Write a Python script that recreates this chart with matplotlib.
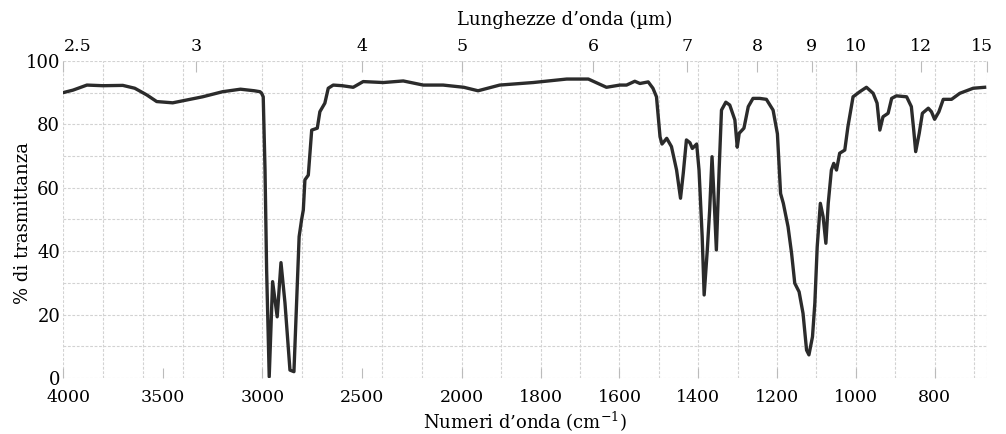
import numpy as np
import matplotlib.pyplot as plt
import matplotlib.transforms as mtransforms

plt.rcParams['font.family'] = 'DejaVu Serif'
plt.rcParams['mathtext.fontset'] = 'dejavuserif'

# spettro IR (numeri d'onda in cm-1, trasmittanza in %)
numeri_onda = [4000, 3950, 3880, 3800, 3700, 3640, 3580, 3530, 3450, 3380,
               3300, 3200, 3110, 3040, 3012, 3004, 2996, 2987, 2979, 2966,
               2949, 2926, 2907, 2887, 2862, 2842, 2829, 2816, 2804, 2795,
               2787, 2770, 2753, 2725, 2712, 2687, 2670, 2645, 2600, 2545,
               2495, 2394, 2294, 2194, 2094, 1995, 1959, 1904, 1819, 1734,
               1679, 1633, 1599, 1582, 1561, 1548, 1527, 1515, 1506, 1497,
               1492, 1480, 1468, 1455, 1445, 1438, 1430, 1421, 1415, 1404,
               1398, 1390, 1385, 1377, 1371, 1365, 1360, 1354, 1347, 1341,
               1330, 1320, 1307, 1301, 1296, 1284, 1273, 1261, 1244, 1227,
               1210, 1199, 1191, 1184, 1172, 1163, 1155, 1144, 1134, 1125,
               1119, 1110, 1104, 1098, 1090, 1083, 1076, 1070, 1062, 1056,
               1049, 1041, 1028, 1020, 1007, 990, 973, 956, 946, 939,
               931, 918, 909, 897, 871, 859, 853, 848, 839, 831,
               816, 808, 800, 789, 778, 757, 736, 702, 673]
trasmittanza = [90.0, 90.8, 92.4, 92.2, 92.3, 91.4, 89.3, 87.2, 86.8, 87.7,
                88.7, 90.3, 91.1, 90.6, 90.3, 89.8, 88.7, 65.6, 34.1, 0.4,
                30.4, 19.3, 36.4, 23.7, 2.5, 2.0, 23.6, 44.6, 49.8, 53.0,
                62.5, 64.0, 78.2, 78.8, 84.0, 86.7, 91.4, 92.4, 92.2, 91.7,
                93.5, 93.2, 93.7, 92.4, 92.4, 91.7, 90.6, 92.4, 93.2, 94.3,
                94.3, 91.7, 92.4, 92.4, 93.6, 92.9, 93.4, 91.4, 88.7, 76.1,
                73.8, 75.6, 73.0, 65.6, 56.7, 64.6, 75.1, 74.2, 72.4, 73.8,
                65.6, 44.6, 26.2, 40.4, 53.0, 69.8, 57.2, 40.4, 65.6, 84.5,
                87.0, 86.1, 81.4, 72.8, 77.2, 78.8, 85.6, 88.2, 88.2, 87.9,
                84.5, 77.0, 58.2, 55.1, 47.7, 39.3, 29.9, 27.2, 20.4, 8.8,
                7.3, 13.0, 23.6, 41.4, 55.1, 50.9, 42.5, 55.1, 65.6, 67.7,
                65.6, 70.9, 71.9, 79.3, 88.7, 90.3, 91.7, 89.8, 86.7, 78.2,
                82.4, 83.5, 88.2, 89.0, 88.7, 85.6, 78.2, 71.4, 77.2, 83.5,
                85.1, 84.0, 81.6, 84.0, 87.9, 87.9, 89.8, 91.4, 91.7]

etichette_basso = [4000, 3500, 3000, 2500, 2000, 1800, 1600, 1400, 1200, 1000, 800]
lunghezze_onda = [2.5, 3, 4, 5, 6, 7, 8, 9, 10, 12, 15]
etichette_alto = ['2.5', '3', '4', '5', '6', '7', '8', '9', '10', '12', '15']

# sotto i 2000 cm-1 la scala e' circa il doppio
k = 1.975

def avanti(w):
    w = np.asarray(w, dtype=float)
    return np.where(w >= 2000, w, 2000 - (2000 - w) * k)

def indietro(v):
    v = np.asarray(v, dtype=float)
    return np.where(v >= 2000, v, 2000 - (2000 - v) / k)

fig = plt.figure(figsize=(10.06, 4.34), dpi=100)
ax = fig.add_axes([0.0626, 0.129, 0.9185, 0.7305])
ax.set_xscale('function', functions=(avanti, indietro))
ax.set_xlim(4000, 667)
ax.set_ylim(0, 100)

# griglia
colore_griglia = '#d2d2d2'
griglia_x = list(range(4000, 1999, -200)) + list(range(1900, 667, -100)) + [667]
for g in griglia_x:
    ax.axvline(g, color=colore_griglia, lw=0.8, ls=(0, (2.5, 1.5)), zorder=0)
for g in range(0, 101, 10):
    ax.axhline(g, color=colore_griglia, lw=0.8, ls=(0, (2.5, 1.5)), zorder=0)

ax.plot(numeri_onda, trasmittanza, color='#2b2b2b', lw=2.4,
        solid_joinstyle='round', zorder=3)

for s in ax.spines.values():
    s.set_visible(False)

ax.set_xticks(etichette_basso)
ax.set_xticklabels([str(e) for e in etichette_basso])
ax.tick_params(axis='x', direction='in', length=7, color='#bbbbbb',
               labelsize=12.5, pad=8)
ax.set_yticks(range(0, 101, 20))
ax.tick_params(axis='y', length=0, labelsize=13, pad=2)

ax.set_ylabel('% di trasmittanza', fontsize=13)
ax.yaxis.set_label_coords(-0.034, 0.49)
ax.set_xlabel('Numeri d’onda (cm$^{-1}$)', fontsize=13, labelpad=3)

# asse superiore con le lunghezze d'onda
ax2 = ax.twiny()
ax2.set_xscale('function', functions=(avanti, indietro))
ax2.set_xlim(4000, 667)
ax2.set_xticks([1e4 / l for l in lunghezze_onda])
ax2.set_xticklabels(etichette_alto)
ax2.tick_params(axis='x', direction='in', length=8, color='#bbbbbb',
                labelsize=12.5, pad=4)
for s in ax2.spines.values():
    s.set_visible(False)

# piccoli spostamenti delle etichette agli estremi
def sposta(etichetta, dx):
    off = mtransforms.ScaledTranslation(dx / 100, 0, fig.dpi_scale_trans)
    etichetta.set_transform(etichetta.get_transform() + off)

sposta(ax.get_xticklabels()[0], 6)
sposta(ax2.get_xticklabels()[0], 15)
sposta(ax2.get_xticklabels()[-1], -5)

fig.text(565 / 1006, 1 - 20 / 434, 'Lunghezze d’onda (µm)',
         ha='center', va='center', fontsize=13)

fig.savefig('out.png', dpi=100)
